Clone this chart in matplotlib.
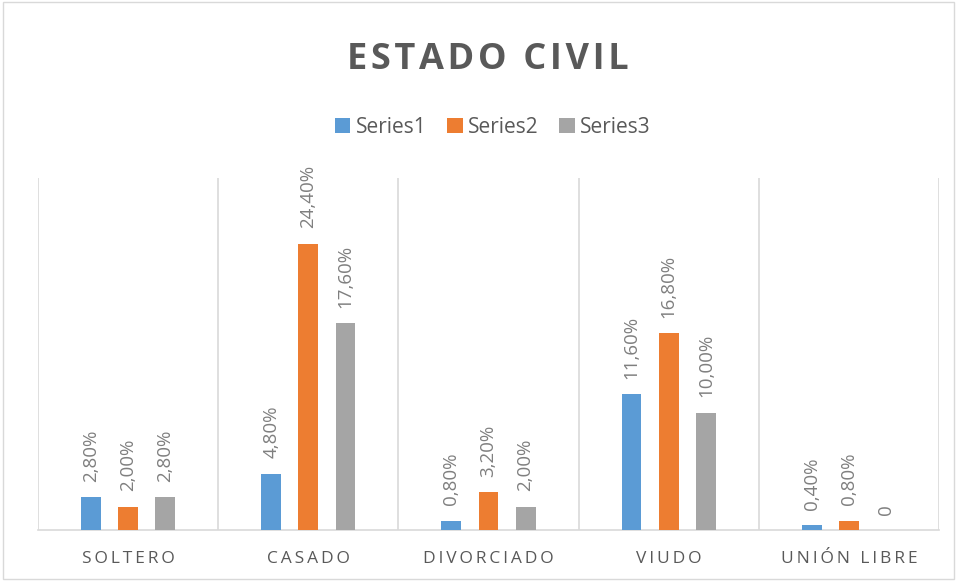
import numpy as np
import matplotlib.pyplot as plt
from matplotlib.patches import Rectangle

categories = ['SOLTERO', 'CASADO', 'DIVORCIADO', 'VIUDO', 'UNIÓN LIBRE']
series_names = ['Series1', 'Series2', 'Series3']
series1 = [2.8, 4.8, 0.8, 11.6, 0.4]
series2 = [2.0, 24.4, 3.2, 16.8, 0.8]
series3 = [2.8, 17.6, 2.0, 10.0, 0.0]
colors = ['#5B9BD5', '#ED7D31', '#A5A5A5']

plt.rcParams['font.family'] = ['Open Sans', 'DejaVu Sans']

fig = plt.figure(figsize=(9.57, 5.81), dpi=100)
fig.patches.append(Rectangle((0.003, 0.003), 0.994, 0.994, transform=fig.transFigure,
                             fill=False, edgecolor='#D9D9D9', linewidth=1))
ax = fig.add_axes([0.0397, 0.0878, 0.9415, 0.606])

x = np.arange(len(categories))
step = 0.206
width = 0.11

def fmt(v):
    if v == 0:
        return '0'
    return ('%.2f%%' % v).replace('.', ',')

for i, (vals, c, name) in enumerate(zip([series1, series2, series3], colors, series_names)):
    pos = x + (i - 1) * step
    ax.bar(pos, vals, width=width, color=c, label=name, zorder=3)
    for p, v in zip(pos, vals):
        ax.annotate(fmt(v), (p, v), xytext=(0, 11), textcoords='offset points',
                    rotation=90, ha='center', va='bottom', fontsize=13.5,
                    color='#7F7F7F')

ax.set_xlim(-0.5, len(categories) - 0.5)
ax.set_ylim(0, 30)
ax.set_yticks([])
ax.set_xticks(x)
ax.set_xticklabels(['\u2009'.join(c) for c in categories], fontsize=12.5, color='#595959')
ax.tick_params(axis='x', length=0, pad=15)
for b in np.arange(-0.5, len(categories), 1.0):
    ax.axvline(b, color='#D9D9D9', linewidth=1.2, zorder=1)
for s in ['top', 'left', 'right']:
    ax.spines[s].set_visible(False)
ax.spines['bottom'].set_color('#D9D9D9')
ax.spines['bottom'].set_linewidth(1.2)

fig.text(0.51, 0.897, '\u200a'.join('ESTADO CIVIL'), ha='center', va='center', fontsize=26,
         fontweight='bold', color='#595959')
fig.legend(loc='center', bbox_to_anchor=(0.515, 0.781), ncol=3, frameon=False,
           fontsize=15, handlelength=0.75, handleheight=0.75, handletextpad=0.25,
           columnspacing=1.0, labelcolor='#595959')

fig.savefig('out.png', dpi=100)
